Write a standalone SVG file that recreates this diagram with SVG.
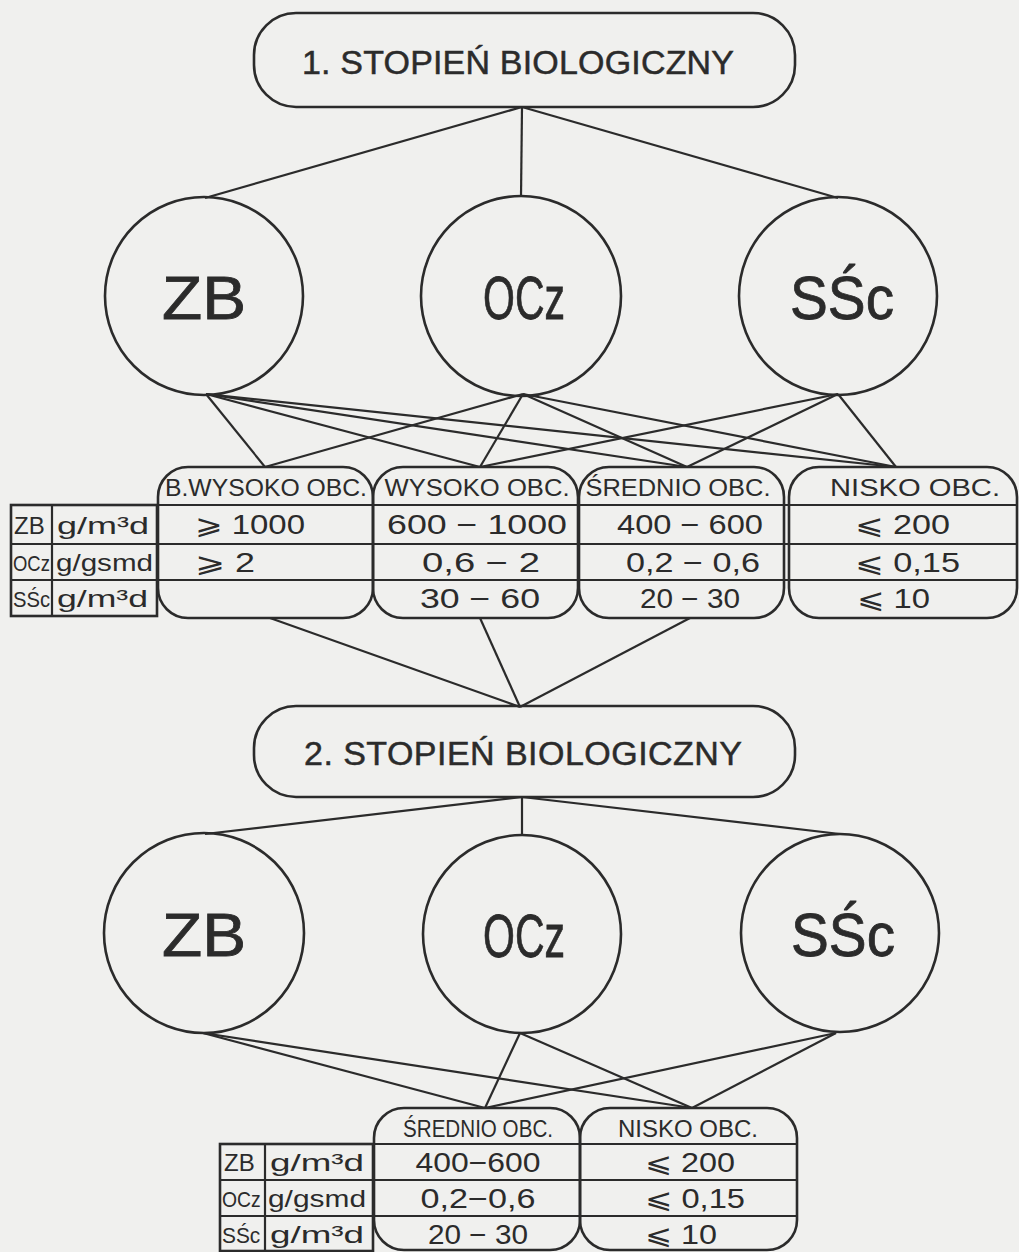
<svg xmlns="http://www.w3.org/2000/svg" width="1019" height="1252" viewBox="0 0 1019 1252">
<style>
.bg{fill:#f0f0ee}
.sh{fill:none;stroke:#2b2b2b;stroke-width:2.6}
.ln{stroke:#2b2b2b;stroke-width:2.2;fill:none}
text{font-family:"Liberation Sans",Arial,sans-serif;fill:#2b2b2b}
.title{font-size:34px;stroke:#2b2b2b;stroke-width:0.5}
.big{font-size:62px;stroke:#2b2b2b;stroke-width:0.8}
.hd{font-size:23px}
.val{font-size:27px}
.lt{font-size:24px}
.ls{font-size:22px}
.sym{font-family:"DejaVu Sans",sans-serif}
</style>
<rect class="bg" x="0" y="0" width="1019" height="1252"/>
<g id="connectors">
<line class="ln" x1="522" y1="107" x2="205" y2="198"/>
<line class="ln" x1="522" y1="107" x2="521" y2="197"/>
<line class="ln" x1="522" y1="107" x2="838" y2="198"/>
<line class="ln" x1="206" y1="394" x2="265" y2="467"/>
<line class="ln" x1="206" y1="394" x2="480" y2="467"/>
<line class="ln" x1="206" y1="394" x2="687" y2="467"/>
<line class="ln" x1="206" y1="394" x2="896" y2="467"/>
<line class="ln" x1="523" y1="394" x2="265" y2="467"/>
<line class="ln" x1="523" y1="394" x2="480" y2="467"/>
<line class="ln" x1="523" y1="394" x2="687" y2="467"/>
<line class="ln" x1="523" y1="394" x2="896" y2="467"/>
<line class="ln" x1="838" y1="394" x2="480" y2="467"/>
<line class="ln" x1="838" y1="394" x2="687" y2="467"/>
<line class="ln" x1="838" y1="394" x2="896" y2="467"/>
<line class="ln" x1="270" y1="618" x2="520" y2="707"/>
<line class="ln" x1="480" y1="618" x2="520" y2="707"/>
<line class="ln" x1="690" y1="618" x2="520" y2="707"/>
<line class="ln" x1="522" y1="797" x2="205" y2="834"/>
<line class="ln" x1="522" y1="797" x2="522" y2="835"/>
<line class="ln" x1="522" y1="797" x2="840" y2="834"/>
<line class="ln" x1="203" y1="1033" x2="485" y2="1108"/>
<line class="ln" x1="203" y1="1033" x2="692" y2="1108"/>
<line class="ln" x1="520" y1="1033" x2="485" y2="1108"/>
<line class="ln" x1="520" y1="1033" x2="692" y2="1108"/>
<line class="ln" x1="836" y1="1033" x2="485" y2="1108"/>
<line class="ln" x1="836" y1="1033" x2="692" y2="1108"/>
</g>
<g id="stage1">
<rect class="sh" x="254" y="13" width="541" height="94" rx="42" ry="42"/>
<text class="title" x="518" y="74" text-anchor="middle" textLength="432">1. STOPIEŃ BIOLOGICZNY</text>
</g>
<g id="zb1">
<circle class="sh" cx="204" cy="296" r="99"/>
<text class="big" x="204" y="319" text-anchor="middle" textLength="84" lengthAdjust="spacingAndGlyphs">ZB</text>
</g>
<g id="ocz1">
<circle class="sh" cx="521" cy="296" r="100"/>
<text class="big" x="524" y="319" text-anchor="middle" textLength="82" lengthAdjust="spacingAndGlyphs">OCz</text>
</g>
<g id="ssc1">
<circle class="sh" cx="838" cy="296" r="99"/>
<text class="big" x="842" y="319" text-anchor="middle" textLength="104" lengthAdjust="spacingAndGlyphs">SŚc</text>
</g>
<g id="table1">
<rect class="sh" x="11" y="505" width="146" height="111"/>
<line class="ln" x1="52" y1="505" x2="52" y2="616"/>
<line class="ln" x1="11" y1="544" x2="1017" y2="544"/>
<line class="ln" x1="11" y1="580" x2="1017" y2="580"/>
<line class="ln" x1="11" y1="505" x2="1017" y2="505"/>
<text class="lt" x="14" y="534">ZB</text>
<text class="lt" x="57" y="534" textLength="92" lengthAdjust="spacingAndGlyphs">g/m³d</text>
<text class="ls" transform="translate(13,571) scale(0.84,1)">OCz</text>
<text class="lt" x="56" y="571" textLength="97" lengthAdjust="spacingAndGlyphs">g/gsmd</text>
<text class="ls" transform="translate(13,607) scale(0.92,1)">SŚc</text>
<text class="lt" x="57" y="607" textLength="91" lengthAdjust="spacingAndGlyphs">g/m³d</text>
</g>
<g id="bwysoko">
<rect class="sh" x="158" y="467" width="215" height="151" rx="30" ry="30"/>
<text class="hd" x="266" y="496" text-anchor="middle" textLength="202" lengthAdjust="spacingAndGlyphs">B.WYSOKO OBC.</text>
<text class="val" x="195" y="534" textLength="110" lengthAdjust="spacingAndGlyphs"><tspan class="sym">⩾</tspan> 1000</text>
<text class="val" x="195" y="572" textLength="60" lengthAdjust="spacingAndGlyphs"><tspan class="sym">⩾</tspan> 2</text>
</g>
<g id="wysoko">
<rect class="sh" x="373" y="467" width="205" height="151" rx="30" ry="30"/>
<text class="hd" x="477" y="496" text-anchor="middle" textLength="185" lengthAdjust="spacingAndGlyphs">WYSOKO OBC.</text>
<text class="val" x="477" y="534" text-anchor="middle" textLength="180" lengthAdjust="spacingAndGlyphs">600 − 1000</text>
<text class="val" x="481" y="572" text-anchor="middle" textLength="118" lengthAdjust="spacingAndGlyphs">0,6 − 2</text>
<text class="val" x="480" y="608" text-anchor="middle" textLength="120" lengthAdjust="spacingAndGlyphs">30 − 60</text>
</g>
<g id="srednio">
<rect class="sh" x="579" y="467" width="205" height="151" rx="30" ry="30"/>
<text class="hd" x="678" y="496" text-anchor="middle" textLength="185" lengthAdjust="spacingAndGlyphs">ŚREDNIO OBC.</text>
<text class="val" x="690" y="534" text-anchor="middle" textLength="146" lengthAdjust="spacingAndGlyphs">400 − 600</text>
<text class="val" x="693" y="572" text-anchor="middle" textLength="134" lengthAdjust="spacingAndGlyphs">0,2 − 0,6</text>
<text class="val" x="690" y="608" text-anchor="middle" textLength="100" lengthAdjust="spacingAndGlyphs">20 − 30</text>
</g>
<g id="nisko">
<rect class="sh" x="789" y="467" width="228" height="151" rx="30" ry="30"/>
<text class="hd" x="915" y="496" text-anchor="middle" textLength="170" lengthAdjust="spacingAndGlyphs">NISKO OBC.</text>
<text class="val" x="855" y="534" textLength="95" lengthAdjust="spacingAndGlyphs"><tspan class="sym">⩽</tspan> 200</text>
<text class="val" x="855" y="572" textLength="105" lengthAdjust="spacingAndGlyphs"><tspan class="sym">⩽</tspan> 0,15</text>
<text class="val" x="857" y="608" textLength="73" lengthAdjust="spacingAndGlyphs"><tspan class="sym">⩽</tspan> 10</text>
</g>
<g id="stage2">
<rect class="sh" x="254" y="706" width="541" height="91" rx="42" ry="42"/>
<text class="title" x="523" y="765" text-anchor="middle" textLength="438">2. STOPIEŃ BIOLOGICZNY</text>
</g>
<g id="zb2">
<circle class="sh" cx="204" cy="933" r="100"/>
<text class="big" x="204" y="956" text-anchor="middle" textLength="84" lengthAdjust="spacingAndGlyphs">ZB</text>
</g>
<g id="ocz2">
<circle class="sh" cx="522" cy="934" r="99"/>
<text class="big" x="524" y="957" text-anchor="middle" textLength="82" lengthAdjust="spacingAndGlyphs">OCz</text>
</g>
<g id="ssc2">
<circle class="sh" cx="840" cy="933" r="99"/>
<text class="big" x="843" y="956" text-anchor="middle" textLength="104" lengthAdjust="spacingAndGlyphs">SŚc</text>
</g>
<g id="table2">
<rect class="sh" x="220" y="1144" width="153" height="107"/>
<line class="ln" x1="265" y1="1144" x2="265" y2="1251"/>
<line class="ln" x1="220" y1="1144" x2="797" y2="1144"/>
<line class="ln" x1="220" y1="1180" x2="797" y2="1180"/>
<line class="ln" x1="220" y1="1216" x2="797" y2="1216"/>
<text class="lt" x="224" y="1171">ZB</text>
<text class="lt" x="270" y="1171" textLength="94" lengthAdjust="spacingAndGlyphs">g/m³d</text>
<text class="ls" transform="translate(222,1207) scale(0.88,1)">OCz</text>
<text class="lt" x="268" y="1207" textLength="98" lengthAdjust="spacingAndGlyphs">g/gsmd</text>
<text class="ls" transform="translate(222,1243) scale(0.95,1)">SŚc</text>
<text class="lt" x="270" y="1243" textLength="94" lengthAdjust="spacingAndGlyphs">g/m³d</text>
</g>
<g id="srednio2">
<rect class="sh" x="374" y="1108" width="206" height="142" rx="30" ry="30"/>
<text class="hd" x="478" y="1137" text-anchor="middle" textLength="150" lengthAdjust="spacingAndGlyphs">ŚREDNIO OBC.</text>
<text class="val" x="478" y="1172" text-anchor="middle" textLength="125" lengthAdjust="spacingAndGlyphs">400−600</text>
<text class="val" x="478" y="1208" text-anchor="middle" textLength="115" lengthAdjust="spacingAndGlyphs">0,2−0,6</text>
<text class="val" x="478" y="1244" text-anchor="middle" textLength="100" lengthAdjust="spacingAndGlyphs">20 − 30</text>
</g>
<g id="nisko2">
<rect class="sh" x="580" y="1108" width="217" height="142" rx="30" ry="30"/>
<text class="hd" x="688" y="1137" text-anchor="middle" textLength="140" lengthAdjust="spacingAndGlyphs">NISKO OBC.</text>
<text class="val" x="645" y="1172" textLength="90" lengthAdjust="spacingAndGlyphs"><tspan class="sym">⩽</tspan> 200</text>
<text class="val" x="645" y="1208" textLength="100" lengthAdjust="spacingAndGlyphs"><tspan class="sym">⩽</tspan> 0,15</text>
<text class="val" x="645" y="1244" textLength="72" lengthAdjust="spacingAndGlyphs"><tspan class="sym">⩽</tspan> 10</text>
</g>
</svg>
